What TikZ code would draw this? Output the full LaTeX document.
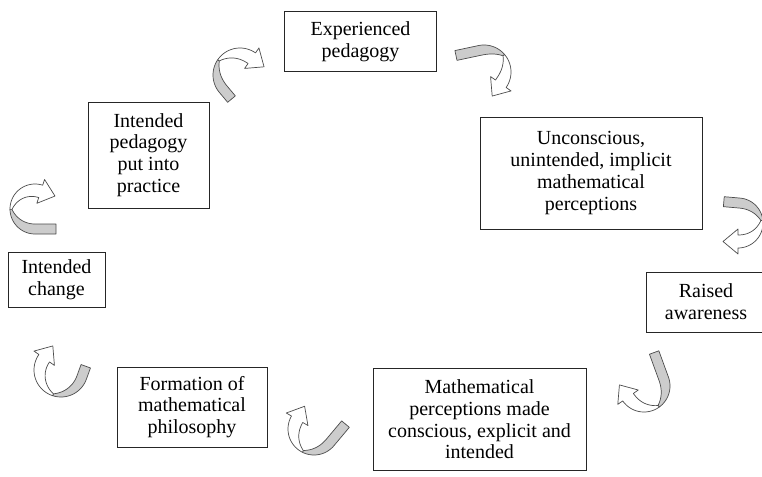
\documentclass[tikz,border=0pt]{standalone}
\usepackage{fontspec}
\setmainfont{Liberation Serif}
\tikzset{
  box/.style={draw=black!85, line width=0.9pt, align=center, inner sep=2pt,
    font=\fontsize{20}{21.7}\selectfont},
  ribbon/.style={fill=black!20, draw=black!70, line width=0.7pt, line join=round},
  front/.style={fill=white, draw=black!70, line width=0.7pt, line join=round}
}
% #1 cx, #2 cy, #3 radius, #4 tail angle, #5 head angle, #6 tail length
\newcommand{\myuturn}[6]{%
 \begin{scope}[shift={(#1,#2)}]
 \pgfmathsetmacro\UTr{#3}
 \pgfmathsetmacro\UTa{#4}
 \pgfmathsetmacro\UTb{#5}
 \pgfmathsetmacro\UTm{#4+0.45*(#5-#4)}
 \pgfmathsetmacro\UTl{#6}
 \filldraw[ribbon] ({(\UTr+5)*cos(\UTa)+\UTl*sin(\UTa)},{(\UTr+5)*sin(\UTa)-\UTl*cos(\UTa)})
   -- plot[domain=\UTa:\UTm,samples=25] ({(\UTr+5)*cos(\x)},{(\UTr+5)*sin(\x)})
   -- plot[domain=\UTm:\UTa,samples=25] ({(\UTr-5+8*((\x-\UTa)/(\UTm-\UTa))^2)*cos(\x)},{(\UTr-5+8*((\x-\UTa)/(\UTm-\UTa))^2)*sin(\x)})
   -- ({(\UTr-5)*cos(\UTa)+\UTl*sin(\UTa)},{(\UTr-5)*sin(\UTa)-\UTl*cos(\UTa)}) -- cycle;
 \filldraw[front] plot[domain=\UTm:\UTb,samples=25] ({(\UTr+5)*cos(\x)},{(\UTr+5)*sin(\x)})
   -- ({(\UTr+11)*cos(\UTb)},{(\UTr+11)*sin(\UTb)})
   -- ({(\UTr-1.5)*cos(\UTb)-15*sin(\UTb)},{(\UTr-1.5)*sin(\UTb)+15*cos(\UTb)})
   -- ({(\UTr-14)*cos(\UTb)},{(\UTr-14)*sin(\UTb)})
   -- ({(\UTr-8)*cos(\UTb)},{(\UTr-8)*sin(\UTb)})
   -- plot[domain=\UTb:\UTm,samples=25] ({(\UTr+3-11*((\x-\UTm)/(\UTb-\UTm))*(2-(\x-\UTm)/(\UTb-\UTm)))*cos(\x)},{(\UTr+3-11*((\x-\UTm)/(\UTb-\UTm))*(2-(\x-\UTm)/(\UTb-\UTm)))*sin(\x)})
   -- cycle;
 \end{scope}}
\begin{document}
\begin{tikzpicture}[x=1pt,y=-1pt]
\useasboundingbox (0,0) rectangle (762,476);
\fill[white] (0,0) rectangle (762,476);
\clip (0,0) rectangle (762,476);

\node[box, minimum width=152pt, minimum height=60pt] (exp) at (360.5,41.7) {Experienced\\pedagogy};
\node[box, minimum width=222pt, minimum height=112pt] (unc) at (591,173) {Unconscious,\\unintended, implicit\\mathematical\\perceptions};
\node[box, minimum width=120pt, minimum height=60pt] (rai) at (706,302) {Raised\\awareness};
\node[box, minimum width=213pt, minimum height=102pt] (mat) at (479.5,419.5) {Mathematical\\perceptions made\\conscious, explicit and\\intended};
\node[box, minimum width=150pt, minimum height=80pt] (for) at (192,407) {Formation of\\mathematical\\philosophy};
\node[box, minimum width=97pt, minimum height=55pt] (cha) at (56.5,279.5) {Intended\\change};
\node[box, minimum width=121pt, minimum height=106pt] (int) at (148.5,155) {Intended\\pedagogy\\put into\\practice};

\myuturn{240}{75}{22}{140}{305}{13}
\myuturn{484}{72}{22}{258}{395}{24}
\myuturn{738}{223}{20}{275}{450}{16}
\myuturn{644}{386}{21}{340}{505}{28}
\myuturn{314}{429}{21}{40}{210}{24}
\myuturn{35}{209}{20}{90}{288}{21}
\myuturn{61}{370}{22}{20}{215}{12}
\end{tikzpicture}
\end{document}
